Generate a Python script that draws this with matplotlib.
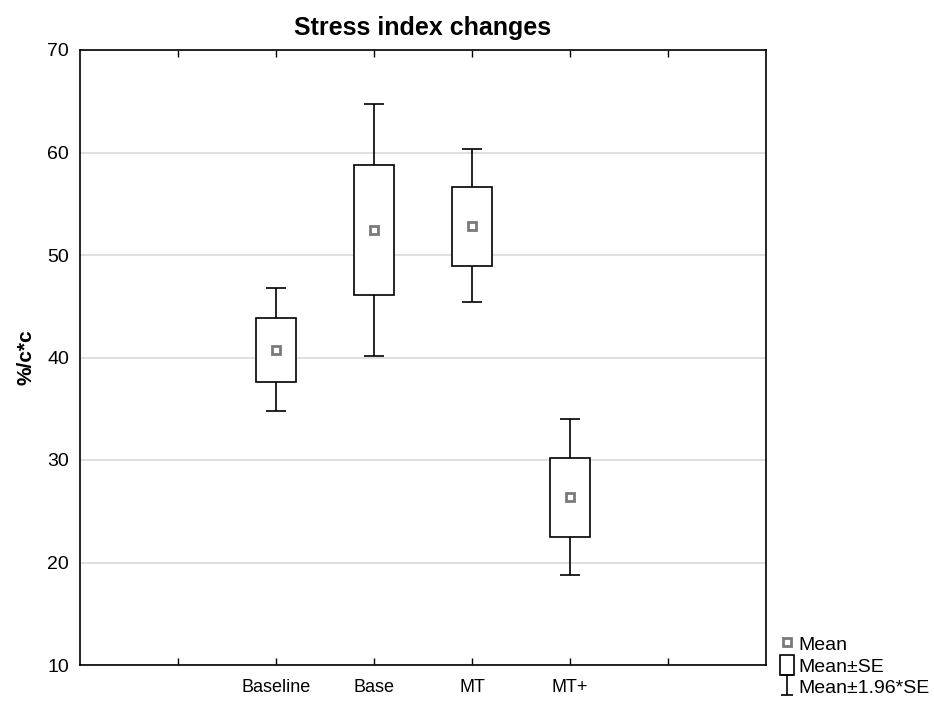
import numpy as np
from matplotlib import pyplot as plt
from matplotlib.patches import Patch
from matplotlib.lines import Line2D
from matplotlib.path import Path

plt.rcParams['font.family'] = ['Liberation Sans', 'DejaVu Sans']

# values
groups = ['Baseline', 'Base', 'MT', 'MT+']
means = [40.7, 52.4, 52.8, 26.4]
se_low = [37.6, 46.1, 48.9, 22.5]
se_high = [43.9, 58.8, 56.6, 30.2]
ci_low = [34.8, 40.1, 45.4, 18.8]
ci_high = [46.8, 64.7, 60.3, 34.0]

x = np.arange(2, 2 + len(groups))
means = np.array(means)
se_low, se_high = np.array(se_low), np.array(se_high)
ci_low, ci_high = np.array(ci_low), np.array(ci_high)

fig = plt.figure(figsize=(9.34, 7.01), dpi=100)
ax = fig.add_axes([80 / 934, 36 / 701, 686 / 934, 615 / 701])

# whiskers: mean +- 1.96*SE
ax.errorbar(x, means, yerr=[means - ci_low, ci_high - means],
            fmt='none', ecolor='black', elinewidth=1.2, capsize=7.5,
            capthick=1.2, zorder=2)
# boxes: mean +- SE
ax.bar(x, se_high - se_low, bottom=se_low, width=0.41, color='white',
       edgecolor='black', linewidth=1.2, zorder=3)
# mean markers
ax.plot(x, means, linestyle='none', marker='s', markersize=6,
        markerfacecolor='white', markeredgecolor='#7a7a7a',
        markeredgewidth=2, zorder=4)

ax.set_xlim(0, 7)
ax.set_ylim(10, 70)
ax.set_yticks(np.arange(10, 71, 10))
ax.set_xticks(np.arange(1, 7))
ax.set_xticklabels([''] + groups + [''])
ax.yaxis.grid(True, color='#d9d9d9', linewidth=1.2)
ax.set_axisbelow(True)
ax.tick_params(axis='x', direction='in', top=True, length=5, width=1,
               labelsize=13, pad=10)
ax.tick_params(axis='y', length=0, labelsize=14, pad=8)
for s in ax.spines.values():
    s.set_linewidth(1.2)

ax.set_title('Stress index changes', fontsize=18, fontweight='bold', pad=11)
ax.set_ylabel('%/c*c', fontsize=15, fontweight='bold', labelpad=8)

# "I" shaped marker for the whisker legend entry
whisker_path = Path([(-0.6, -1), (0.6, -1), (0, -1), (0, 1), (-0.6, 1), (0.6, 1)],
                    [Path.MOVETO, Path.LINETO, Path.MOVETO, Path.LINETO,
                     Path.MOVETO, Path.LINETO])
handles = [
    Line2D([], [], linestyle='none', marker='s', markersize=6,
           markerfacecolor='white', markeredgecolor='#7a7a7a',
           markeredgewidth=2),
    Patch(facecolor='white', edgecolor='black', linewidth=1.2),
    Line2D([], [], linestyle='none', marker=whisker_path, markersize=15,
           color='black', markeredgewidth=1.2),
]
fig.legend(handles, ['Mean', 'Mean±SE', 'Mean±1.96*SE'],
           loc='lower left', bbox_to_anchor=(772 / 934, -0.005),
           frameon=False, fontsize=14, handlelength=0.75, handleheight=1.15,
           handletextpad=0.2, labelspacing=0.05, borderaxespad=0.0)

fig.savefig('out.png', dpi=100)
